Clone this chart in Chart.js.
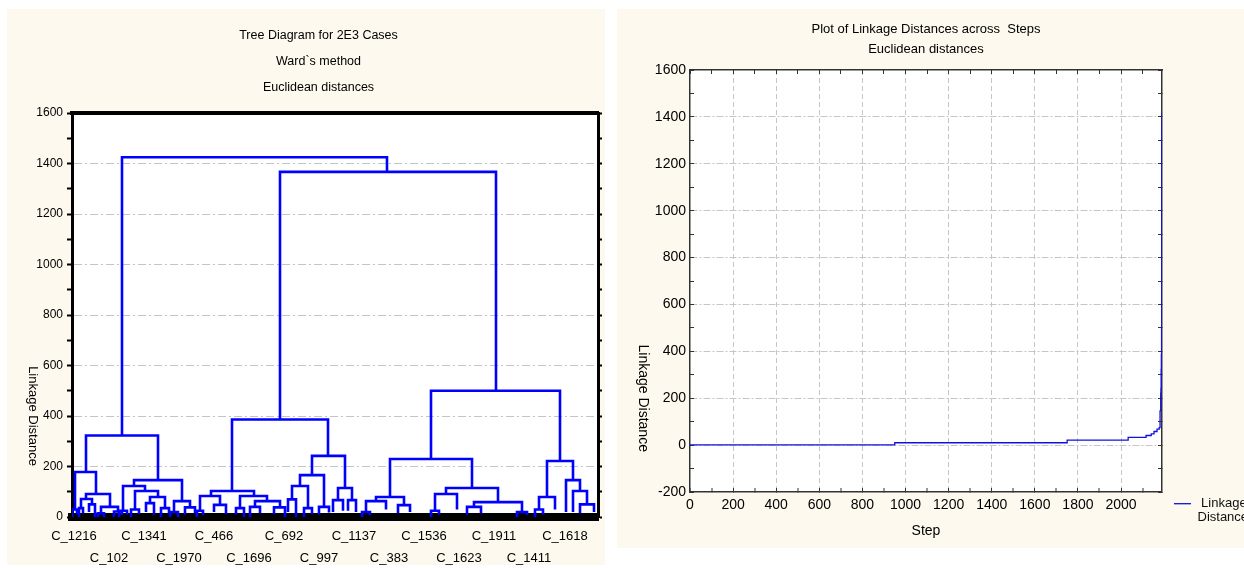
<!DOCTYPE html>
<html lang="en">
<head>
<meta charset="UTF-8" />
<title>Tree Diagram / Linkage Distances</title>
<script src="https://cdnjs.cloudflare.com/ajax/libs/Chart.js/4.4.1/chart.umd.min.js"></script>
<style>
  html, body { margin: 0; padding: 0; background: #fff; width: 1244px; height: 568px; overflow: hidden; }
  .panel { position: absolute; background: #fdf9ee; overflow: hidden; }
  #leftPanel { left: 7px; top: 9px; width: 598px; height: 556px; }
  #rightPanel { left: 617px; top: 9px; width: 627px; height: 539px; }
</style>
</head>
<body>
<div class="panel" id="leftPanel"><canvas id="tree" width="598" height="556"></canvas></div>
<div class="panel" id="rightPanel"><canvas id="steps" width="627" height="539"></canvas></div>
<script>
// dendrogram: each link joins two branches at linkHeight
// positions are leaf-order positions along the case axis (0..526)
const linkLeft      = [50, 208, 14, 3, 0, 14, 9, 7, 17, 29, 26, 42, 62, 51, 47, 63, 59, 78, 74, 89, 102, 98, 113,
                       160, 139, 128, 125, 142, 168, 164, 183, 178, 202, 240, 228, 220, 216, 232, 247, 266, 261, 276,
                       359, 318, 304, 294, 290, 326, 374, 363, 359, 402, 395, 445, 475, 467, 463, 494, 501, 508];
const linkRight     = [315, 424, 86, 24, 5, 38, 20, 11, 23, 46, 32, 50, 110, 73, 55, 86, 67, 93, 82, 97, 118, 106, 123,
                       256, 182, 148, 131, 154, 195, 172, 208, 188, 213, 273, 252, 236, 224, 240, 257, 280, 271, 284,
                       488, 400, 332, 314, 298, 338, 426, 385, 367, 450, 409, 455, 501, 483, 471, 508, 515, 522];
const linkHeight    = [1425, 1367, 323, 178, 30, 91, 71, 35, 50, 40, 15, 22, 146, 123, 25, 103, 30, 79, 55, 35, 63, 20, 38,
                       386, 103, 83, 25, 48, 83, 35, 63, 40, 38, 242, 166, 123, 70, 35, 40, 115, 67, 67,
                       500, 230, 79, 63, 20, 47, 115, 91, 25, 59, 40, 20, 222, 79, 30, 146, 103, 50];
const linkLeftBase  = [323, 386, 178, 30, 0, 71, 35, 0, 20, 15, 0, 0, 123, 25, 0, 30, 0, 55, 20, 0, 20, 0, 10,
                       103, 83, 25, 0, 20, 35, 10, 40, 0, 12, 166, 123, 70, 20, 0, 10, 67, 20, 25,
                       230, 79, 63, 20, 0, 15, 91, 25, 0, 40, 10, 0, 79, 30, 0, 20, 20, 15];
const linkRightBase = [1367, 500, 146, 91, 12, 40, 50, 15, 0, 22, 0, 8, 63, 103, 10, 79, 12, 35, 10, 15, 38, 0, 15,
                       242, 83, 48, 8, 12, 63, 0, 38, 15, 0, 115, 40, 35, 0, 12, 18, 67, 25, 20,
                       222, 115, 47, 30, 8, 20, 59, 30, 10, 20, 15, 8, 146, 30, 10, 103, 50, 20];

const leafLabels   = ['C_1216', 'C_102', 'C_1341', 'C_1970', 'C_466', 'C_1696', 'C_692', 'C_997',
                      'C_1137', 'C_383', 'C_1536', 'C_1623', 'C_1911', 'C_1411', 'C_1618'];
const leafLabelPos = [2, 37, 72, 107, 142, 177, 212, 247, 282, 317, 352, 387, 422, 457, 493];

// amalgamation schedule
const stepX        = [0, 950, 1750, 2033, 2116, 2140, 2153, 2167, 2177, 2181, 2184, 2185, 2186, 2187, 2188, 2189, 2190];
const stepDistance = [1, 10, 21, 33, 41, 48, 58, 68, 75, 146, 222, 242, 323, 386, 500, 1367, 1425];
const stepTicks    = [0, 100, 200, 300, 400, 500, 600, 700, 800, 900, 1000, 1100,
                      1200, 1300, 1400, 1500, 1600, 1700, 1800, 1900, 2000, 2100];

const SANS = "'Liberation Sans', Arial, sans-serif";
const CLEAR = 'rgba(0,0,0,0)';

const treePoints = [];
linkLeft.forEach((l, i) => {
  const r = linkRight[i], h = linkHeight[i];
  treePoints.push({x: l, y: linkLeftBase[i]}, {x: l, y: h}, {x: r, y: h}, {x: r, y: linkRightBase[i]}, {x: r, y: null});
});

const plotBackground = {
  id: 'plotBackground',
  beforeDraw(chart) {
    const {ctx, chartArea: a} = chart;
    ctx.save();
    ctx.fillStyle = '#fff';
    ctx.fillRect(a.left, a.top, a.width, a.height);
    ctx.restore();
  }
};

// vertical axis caption, reading top to bottom as in the original
const axisCaption = {
  id: 'axisCaption',
  afterDraw(chart, args, o) {
    const ctx = chart.ctx;
    const y = chart.scales[o.scale].getPixelForValue(o.value);
    ctx.save();
    ctx.translate(o.x, y);
    ctx.rotate(Math.PI / 2);
    ctx.font = o.font;
    ctx.fillStyle = '#000';
    ctx.textAlign = 'center';
    ctx.textBaseline = 'middle';
    ctx.fillText(o.text, 0, 0);
    ctx.restore();
  }
};

const useStepTicks = s => { s.ticks = stepTicks.map(v => ({ value: v })); };
const majorStep = c => c.tick && c.tick.value % 200 === 0 && c.tick.value > 0;

new Chart(document.getElementById('tree'), {
  type: 'line',
  data: {
    datasets: [{
      data: treePoints,
      borderColor: '#0000ff',
      borderWidth: 2.6,
      pointRadius: 0,
      spanGaps: false,
      xAxisID: 'x',
      yAxisID: 'y'
    }]
  },
  options: {
    responsive: false,
    animation: false,
    events: [],
    layout: { padding: { left: 25, right: 0, top: 0, bottom: 0 } },
    plugins: {
      legend: { display: false },
      tooltip: { enabled: false },
      title: {
        display: true,
        text: ['Tree Diagram for 2E3 Cases', 'Ward`s method', 'Euclidean distances'],
        color: '#000',
        font: { family: SANS, size: 12.5, weight: 'normal', lineHeight: '26px' },
        padding: { top: 14, bottom: 10 }
      },
      axisCaption: { text: 'Linkage Distance', x: 26, scale: 'y', value: 400, font: '13px ' + SANS }
    },
    scales: {
      x: {
        type: 'linear', position: 'bottom', min: 0, max: 526,
        afterBuildTicks: s => { s.ticks = leafLabelPos.map(v => ({ value: v })); },
        afterFit: s => { s.height = 48; },
        grid: { display: false },
        border: { width: 8, color: '#000' },
        ticks: {
          autoSkip: false, maxRotation: 0, padding: 0, color: '#000',
          font: { family: SANS, size: 13, lineHeight: '22px' },
          callback: (v, i) => i % 2 === 0 ? [leafLabels[i], ''] : ['', leafLabels[i]]
        }
      },
      xTop: {
        type: 'linear', position: 'top', min: 0, max: 526,
        afterFit: s => { s.height = 2; },
        ticks: { display: false },
        grid: { display: false },
        border: { width: 4, color: '#000' }
      },
      y: {
        type: 'linear', position: 'left', min: 0, max: 1600,
        afterFit: s => { s.width = 40; },
        ticks: {
          stepSize: 100, padding: 4, color: '#000',
          font: { family: SANS, size: 12 },
          callback: v => v % 200 === 0 ? v : ''
        },
        grid: {
          color: c => (c.tick && c.tick.value % 200 === 0 && c.tick.value > 0 && c.tick.value < 1600) ? '#c4c4c4' : CLEAR,
          lineWidth: 1, tickColor: '#000', tickLength: 5, tickWidth: 2
        },
        border: { width: 3, color: '#000', dash: [8, 3, 2, 3] }
      },
      yRight: {
        type: 'linear', position: 'right', min: 0, max: 1600,
        afterFit: s => { s.width = 7; },
        ticks: { display: false, stepSize: 100 },
        grid: { drawOnChartArea: false, tickColor: '#000', tickLength: 4, tickWidth: 2 },
        border: { width: 3, color: '#000' }
      }
    }
  },
  plugins: [plotBackground, axisCaption]
});

new Chart(document.getElementById('steps'), {
  type: 'line',
  data: {
    datasets: [{
      label: [' Linkage', 'Distance', ''],
      data: stepX.map((x, i) => ({ x: x, y: stepDistance[i] })),
      stepped: 'before',
      borderColor: '#1010e0',
      borderWidth: 1.3,
      pointRadius: 0,
      xAxisID: 'x',
      yAxisID: 'y'
    }]
  },
  options: {
    responsive: false,
    animation: false,
    events: [],
    layout: { padding: 0 },
    plugins: {
      tooltip: { enabled: false },
      legend: {
        position: 'right', align: 'end', maxWidth: 80,
        labels: {
          usePointStyle: true, pointStyle: 'line', pointStyleWidth: 17, padding: 10,
          color: '#111', font: { family: SANS, size: 13, lineHeight: '13.6px' }
        }
      },
      title: {
        display: true, fullSize: false,
        text: ['Plot of Linkage Distances across  Steps', 'Euclidean distances'],
        color: '#000',
        font: { family: SANS, size: 13, weight: 'normal', lineHeight: '20px' },
        padding: { top: 10, bottom: 10 }
      },
      axisCaption: { text: 'Linkage Distance', x: 26, scale: 'y', value: 200, font: '14px ' + SANS }
    },
    scales: {
      x: {
        type: 'linear', position: 'bottom', min: 0, max: 2190,
        afterBuildTicks: useStepTicks,
        afterFit: s => { s.height = 56; },
        ticks: {
          autoSkip: false, maxRotation: 0, padding: 9,
          color: '#000', font: { family: SANS, size: 14 },
          callback: v => v % 200 === 0 ? v : ''
        },
        grid: {
          color: '#c6c6c6',
          lineWidth: c => majorStep(c) ? 1 : 0,
          tickColor: '#333', tickWidth: 1, tickLength: -4
        },
        border: { width: 1.5, color: '#333', dash: [5, 3] },
        title: {
          display: true, text: 'Step', color: '#000',
          font: { family: SANS, size: 14 }, padding: { top: 0, bottom: 8 }
        }
      },
      xTop: {
        type: 'linear', position: 'top', min: 0, max: 2190,
        afterBuildTicks: useStepTicks,
        afterFit: s => { s.height = 1; },
        ticks: { display: false },
        grid: { drawOnChartArea: false, tickColor: '#333', tickLength: -4 },
        border: { width: 1.5, color: '#333' }
      },
      y: {
        type: 'linear', position: 'left', min: -200, max: 1600,
        afterFit: s => { s.width = 73; },
        ticks: {
          stepSize: 100, padding: 8, color: '#000', font: { family: SANS, size: 14 },
          callback: v => v % 200 === 0 ? v : ''
        },
        grid: {
          color: c => (c.tick && c.tick.value % 200 === 0 && c.tick.value > -200 && c.tick.value < 1600) ? '#c6c6c6' : CLEAR,
          tickColor: '#333', tickLength: -4, lineWidth: 1
        },
        border: { width: 1.5, color: '#333', dash: [7, 2, 2, 2] }
      },
      yRight: {
        type: 'linear', position: 'right', min: -200, max: 1600,
        afterFit: s => { s.width = 2; },
        ticks: { display: false, stepSize: 100 },
        grid: { drawOnChartArea: false, tickColor: '#333', tickLength: -4 },
        border: { width: 1.5, color: '#333' }
      }
    }
  },
  plugins: [plotBackground, axisCaption]
});
</script>
</body>
</html>
